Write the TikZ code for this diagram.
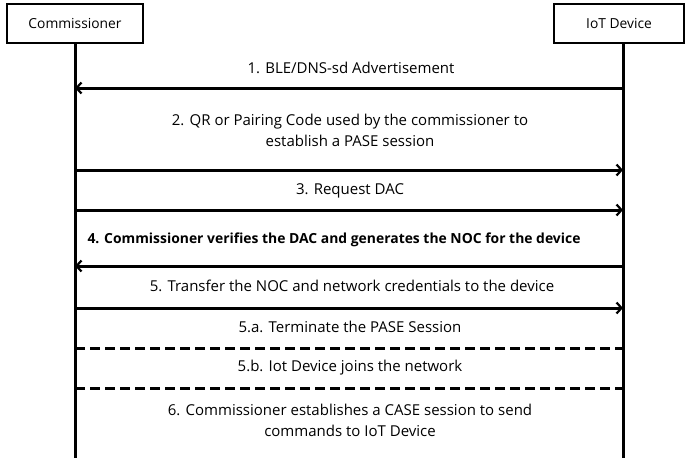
\documentclass[tikz,border=0pt]{standalone}
\usepackage{fontspec}
\setmainfont{Open Sans}
\usetikzlibrary{arrows.meta}
\begin{document}
\begin{tikzpicture}[x=1pt,y=-1pt,
  actor/.style={draw,line width=1.3pt,minimum width=136pt,minimum height=39pt,inner sep=0pt,font=\fontsize{13.8}{16}\selectfont},
  life/.style={line width=3pt},
  msg/.style={line width=3pt,-{Straight Barb[length=5pt,width=11pt,line width=2.2pt]}},
  note/.style={line width=3pt,dash pattern=on 10pt off 5pt},
  lbl/.style={align=center,font=\fontsize{15}{21}\selectfont,inner sep=0pt}]
\useasboundingbox (0,0) rectangle (685,458);
\node[actor] (com) at (75,23.5) {Commissioner};
\node[actor,minimum width=130pt] (iot) at (619,23.5) {IoT Device};
\coordinate (cb) at (75,458);
\coordinate (ib) at (623,458);
\draw[life] (com.south) -- (cb);
\draw[life] (iot.south -| ib) -- (ib);
% helper coordinates on the lifelines
\foreach \n/\y in {1/88,2/170,3/210,4/266,5/308,6/348,7/388}{
  \coordinate (c\n) at (75,\y);
  \coordinate (d\n) at (623,\y);
}
\draw[msg] (d1) -- (c1);
\draw[msg] (c2) -- (d2);
\draw[msg] (c3) -- (d3);
\draw[msg] (d4) -- (c4);
\draw[msg] (c5) -- (d5);
\draw[note] (c6) -- (d6);
\draw[note] (c7) -- (d7);
\node[lbl] (t1) at (351,68) {1. BLE/DNS-sd Advertisement};
\node[lbl] (t2) at (350,130.5) {2. QR or Pairing Code used by the commissioner to\\establish a PASE session};
\node[lbl] (t3) at (350,191) {3. Request DAC};
\node[lbl,font=\fontsize{13.9}{16}\selectfont\bfseries] (t4) at (334,240) {4. Commissioner verifies the DAC and generates the NOC for the device};
\node[lbl] (t5) at (352,286) {5. Transfer the NOC and network credentials to the device};
\node[lbl] (t6) at (350,327) {5.a. Terminate the PASE Session};
\node[lbl] (t7) at (350,368) {5.b. Iot Device joins the network};
\node[lbl] (t8) at (350,420.5) {6. Commissioner establishes a CASE session to send\\commands to IoT Device};
\end{tikzpicture}
\end{document}
